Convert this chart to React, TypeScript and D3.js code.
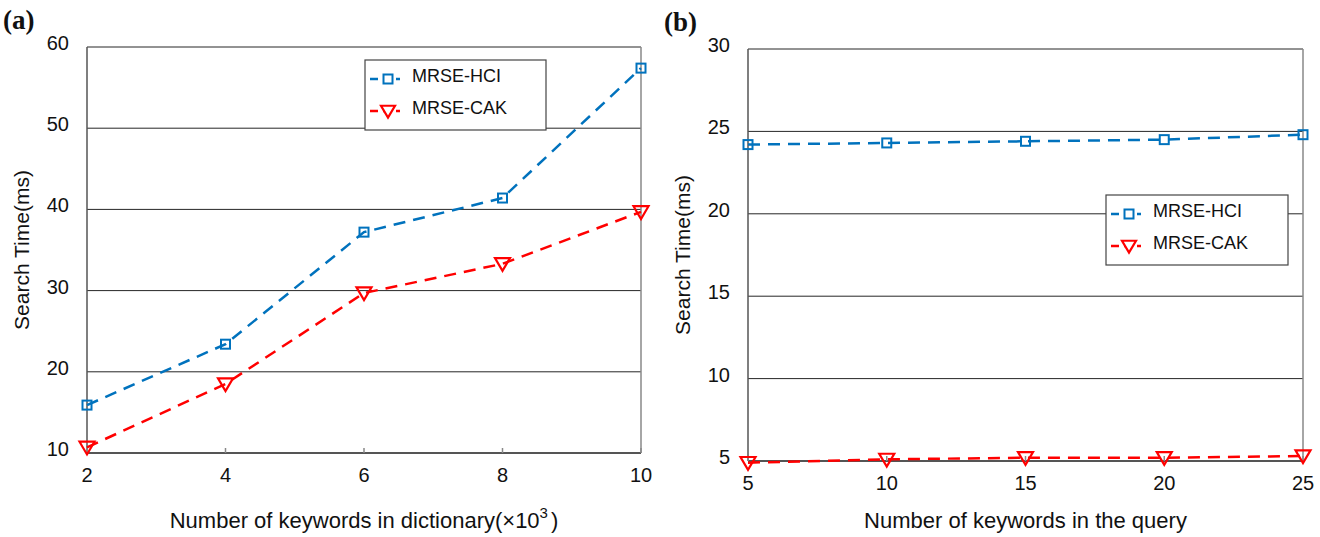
import React, { useEffect, useRef } from "react";
import * as d3 from "d3";

const xA = [2, 4, 6, 8, 10];
const hciA = [15.9, 23.4, 37.2, 41.4, 57.4];
const cakA = [10.7, 18.5, 29.7, 33.3, 39.7];
const yTicksA = [10, 20, 30, 40, 50, 60];

const xB = [5, 10, 15, 20, 25];
const hciB = [24.2, 24.3, 24.4, 24.5, 24.8];
const cakB = [4.9, 5.1, 5.2, 5.2, 5.3];
const yTicksB = [5, 10, 15, 20, 25, 30];

const seriesNames = ["MRSE-HCI", "MRSE-CAK"];
const BLUE = "#0072BD";
const RED = "#FF0000";
const FONT = "'Liberation Sans', Arial, sans-serif";

type PanelCfg = {
  label: string;
  xs: number[];
  hci: number[];
  cak: number[];
  yTicks: number[];
  left: number;
  right: number;
  top: number;
  bottom: number;
  xTitle: string;
  sup: boolean;
  legend: { x: number; y: number; w: number; h: number };
};

function drawPanel(svg: d3.Selection<SVGSVGElement, unknown, null, undefined>, cfg: PanelCfg) {
  const x = d3.scaleLinear().domain(d3.extent(cfg.xs) as [number, number]).range([cfg.left, cfg.right]);
  const y = d3.scaleLinear().domain(d3.extent(cfg.yTicks) as [number, number]).range([cfg.bottom, cfg.top]);
  const g = svg.append("g");

  // grid lines
  g.selectAll("line.grid").data(cfg.yTicks).enter().append("line")
    .attr("x1", cfg.left).attr("x2", cfg.right)
    .attr("y1", d => y(d)).attr("y2", d => y(d))
    .attr("stroke", "#262626").attr("stroke-width", 1);

  // box
  g.append("line").attr("x1", cfg.left).attr("x2", cfg.left).attr("y1", cfg.top).attr("y2", cfg.bottom)
    .attr("stroke", "#555").attr("stroke-width", 1.5);
  g.append("line").attr("x1", cfg.right).attr("x2", cfg.right).attr("y1", cfg.top).attr("y2", cfg.bottom)
    .attr("stroke", "#888").attr("stroke-width", 1.5);
  g.append("line").attr("x1", cfg.left).attr("x2", cfg.right).attr("y1", cfg.bottom).attr("y2", cfg.bottom)
    .attr("stroke", "#555").attr("stroke-width", 2);

  // x ticks
  g.selectAll("line.xt").data(cfg.xs).enter().append("line")
    .attr("x1", d => x(d)).attr("x2", d => x(d))
    .attr("y1", cfg.bottom).attr("y2", cfg.bottom - 5)
    .attr("stroke", "#888").attr("stroke-width", 1.5);

  g.selectAll("text.xt").data(cfg.xs).enter().append("text")
    .attr("x", d => x(d)).attr("y", cfg.bottom + 29)
    .attr("text-anchor", "middle").attr("font-family", FONT).attr("font-size", 20)
    .attr("fill", "#111").text(d => d);

  g.selectAll("text.yt").data(cfg.yTicks).enter().append("text")
    .attr("x", cfg.left - 18).attr("y", d => y(d) + 3)
    .attr("text-anchor", "end").attr("font-family", FONT).attr("font-size", 20)
    .attr("fill", "#111").text(d => d);

  // axis titles
  g.append("text")
    .attr("transform", `translate(${cfg.left - 58},${(cfg.top + cfg.bottom) / 2}) rotate(-90)`)
    .attr("text-anchor", "middle").attr("font-family", FONT).attr("font-size", 21)
    .attr("fill", "#111").text("Search Time(ms)");

  const xt = g.append("text")
    .attr("x", (cfg.left + cfg.right) / 2).attr("y", 528)
    .attr("text-anchor", "middle").attr("font-family", FONT).attr("font-size", 22)
    .attr("fill", "#111").text(cfg.xTitle);
  if (cfg.sup) {
    xt.append("tspan").attr("dy", -10).attr("font-size", 15).text("3");
    xt.append("tspan").attr("dy", 10).attr("dx", 3).text(")");
  }

  // panel label
  g.append("text").attr("x", cfg.left - 84).attr("y", cfg.top - 18)
    .attr("font-family", "'Liberation Serif', 'Times New Roman', serif").attr("font-weight", "bold")
    .attr("font-size", 27).attr("fill", "#111").text(cfg.label);

  const line = d3.line<number>().x((_, i) => x(cfg.xs[i])).y(d => y(d));

  const series = [
    { vals: cfg.hci, color: BLUE, marker: "square" },
    { vals: cfg.cak, color: RED, marker: "tri" },
  ];

  const tri = (cx: number, cy: number, s: number) =>
    `M${cx - s},${cy - s * 0.75}L${cx + s},${cy - s * 0.75}L${cx},${cy + s * 0.95}Z`;

  series.forEach(s => {
    g.append("path").attr("d", line(s.vals)).attr("fill", "none")
      .attr("stroke", s.color).attr("stroke-width", 2.5).attr("stroke-dasharray", "12,8");
    s.vals.forEach((v, i) => {
      const cx = x(cfg.xs[i]);
      const cy = y(v);
      if (s.marker === "square") {
        g.append("rect").attr("x", cx - 4.5).attr("y", cy - 4.5).attr("width", 9).attr("height", 9)
          .attr("fill", "none").attr("stroke", s.color).attr("stroke-width", 2);
      } else {
        g.append("path").attr("d", tri(cx, cy, 7.5)).attr("fill", "none")
          .attr("stroke", s.color).attr("stroke-width", 2.2);
      }
    });
  });

  // legend
  const L = cfg.legend;
  const lg = g.append("g");
  lg.append("rect").attr("x", L.x).attr("y", L.y).attr("width", L.w).attr("height", L.h)
    .attr("fill", "#fff").attr("stroke", "#444").attr("stroke-width", 1.2);
  seriesNames.forEach((name, i) => {
    const ly = L.y + 19 + i * 32;
    const s = series[i];
    lg.append("line").attr("x1", L.x + 5).attr("x2", L.x + 35).attr("y1", ly).attr("y2", ly)
      .attr("stroke", s.color).attr("stroke-width", 2.5).attr("stroke-dasharray", "8,5");
    const mx = L.x + 23;
    if (s.marker === "square") {
      lg.append("rect").attr("x", mx - 4.5).attr("y", ly - 4.5).attr("width", 9).attr("height", 9)
        .attr("fill", "#fff").attr("stroke", s.color).attr("stroke-width", 2);
    } else {
      lg.append("path").attr("d", tri(mx, ly, 7)).attr("fill", "#fff")
        .attr("stroke", s.color).attr("stroke-width", 2.2);
    }
    lg.append("text").attr("x", L.x + 47).attr("y", ly + 3)
      .attr("font-family", FONT).attr("font-size", 18).attr("fill", "#111").text(name);
  });
}

export default function App() {
  const ref = useRef<SVGSVGElement>(null);

  useEffect(() => {
    const svg = d3.select(ref.current!);
    svg.selectAll("*").remove();
    drawPanel(svg, {
      label: "(a)", xs: xA, hci: hciA, cak: cakA, yTicks: yTicksA,
      left: 87, right: 641, top: 47, bottom: 453,
      xTitle: "Number of keywords in dictionary(\u00d710", sup: true,
      legend: { x: 365, y: 60, w: 181, h: 70 },
    });
    drawPanel(svg, {
      label: "(b)", xs: xB, hci: hciB, cak: cakB, yTicks: yTicksB,
      left: 748, right: 1303, top: 49, bottom: 461,
      xTitle: "Number of keywords in the query", sup: false,
      legend: { x: 1106, y: 195, w: 182, h: 70 },
    });
  }, []);

  return (
    <svg ref={ref} width={1320} height={537}
      style={{ position: "absolute", left: 0, top: 0, background: "#fff" }} />
  );
}
